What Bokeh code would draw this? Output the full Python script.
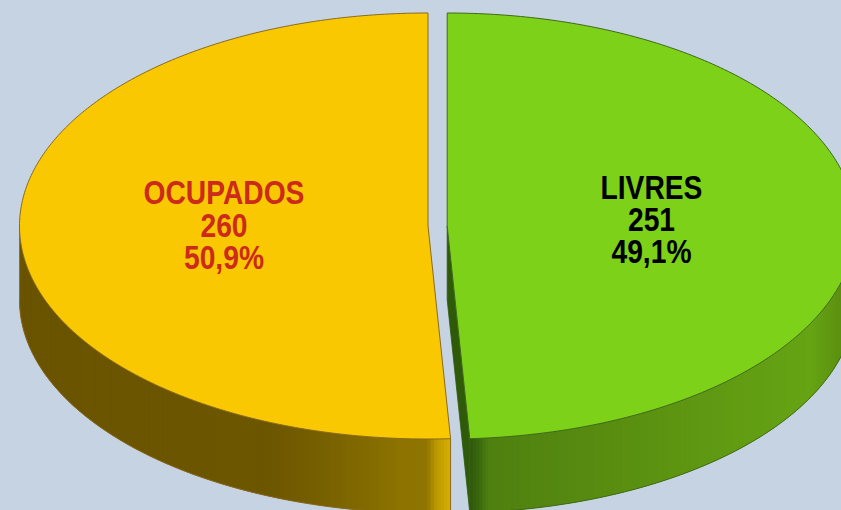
import math
from bokeh.plotting import figure
from bokeh.embed import file_html
from bokeh.resources import INLINE
from bokeh.core.properties import value as fixed

labels = ["OCUPADOS", "LIVRES"]
counts = [260, 251]
shares = ["50,9%", "49,1%"]
label_colors = ["#cc2a1a", "#000000"]
top_colors = ["#fac800", "#7dd118"]
edge_colors = ["#8a6a20", "#3f6a1a"]
bg = "#c5d3e2"

W, H = 841, 510
RX, RY, DEPTH, CY = 408.5, 213.0, 74.0, 225.5
CX = [427.5, 446.7]
total = sum(counts)
split = counts[0] / total * 360.0  # degrees anticlockwise from the top

# wall shading: (x, colour) stops
yellow_wall = [(19, "#6a5400"), (270, "#6c5600"), (340, "#7c6400"), (400, "#8d7300"), (426, "#8f7400"), (436, "#bb9900"), (450, "#d8b000")]
green_wall = [(470, "#30580c"), (480, "#3c6c0e"), (488, "#4f8010"), (600, "#588c10"), (720, "#609a12"), (810, "#66a414"), (841, "#5c9010"), (860, "#5c9010")]


def hex2rgb(h):
    return [int(h[i:i + 2], 16) for i in (1, 3, 5)]


def shade(stops, x):
    if x <= stops[0][0]:
        return stops[0][1]
    for (x0, c0), (x1, c1) in zip(stops, stops[1:]):
        if x <= x1:
            f = (x - x0) / (x1 - x0)
            a, b = hex2rgb(c0), hex2rgb(c1)
            return "#%02x%02x%02x" % tuple(round(p + (q - p) * f) for p, q in zip(a, b))
    return stops[-1][1]


def rim(cx, deg):
    """Point on the top ellipse, degrees clockwise from the top."""
    a = math.radians(deg)
    return cx + RX * math.sin(a), CY - RY * math.cos(a)


p = figure(width=W, height=H, x_range=(0, W), y_range=(H, 0), toolbar_location=None,
           output_backend="svg", min_border=0, outline_line_color=None,
           background_fill_color=bg, border_fill_color=bg)
p.axis.visible = False
p.grid.visible = False


def wall(cx, a0, a1, stops):
    """Side wall as overlapping strips painted one over the other, so no seams show."""
    n = 200
    xs, ys, cs = [], [], []
    for i in range(n):
        d0 = a0 + (a1 - a0) * i / n
        d1 = a0 + (a1 - a0) * min(i + 3, n) / n
        dm = a0 + (a1 - a0) * (i + 0.5) / n
        x0, y0 = rim(cx, d0)
        x1, y1 = rim(cx, d1)
        xs.append([x0, x1, x1, x0])
        ys.append([y0, y1, y1 + DEPTH, y0 + DEPTH])
        cs.append(shade(stops, rim(cx, dm)[0]))
    p.patches(xs, ys, fill_color=cs, line_color=None)


def outline(cx, a0, a1, color):
    n = 200
    pts = [rim(cx, a0 + (a1 - a0) * i / n) for i in range(n + 1)]
    p.line([q[0] for q in pts], [q[1] + DEPTH for q in pts], line_color=color, line_width=1)


def top(cx, a0, a1, fill, edge):
    n = 240
    pts = [rim(cx, a0 + (a1 - a0) * i / n) for i in range(n + 1)]
    xs = [cx] + [q[0] for q in pts]
    ys = [CY] + [q[1] for q in pts]
    p.patch(xs, ys, fill_color=fill, line_color=edge, line_width=1)


# yellow slice (left): from the split angle round to the top
y_start = 360.0 - split
wall(CX[0], y_start, 270.0, yellow_wall)
outline(CX[0], 270.0, y_start, edge_colors[0])
lx, ly = rim(CX[0], 270.0)
p.line([lx, lx], [ly, ly + DEPTH], line_color="#7a7060", line_width=1)
ex, ey = rim(CX[0], y_start)
p.line([ex, ex], [ey, ey + DEPTH], line_color=edge_colors[0], line_width=1)
top(CX[0], y_start, 360.0, top_colors[0], edge_colors[0])

# green slice (right): cut face, wall, top
g_end = counts[1] / total * 360.0
gx, gy = rim(CX[1], g_end)
p.patch([CX[1], gx, gx, CX[1]], [CY, gy, gy + DEPTH, CY + DEPTH],
        fill_color="#2f5a0a", line_color="#2f5a0a", line_width=0.8)
wall(CX[1], 90.0, g_end, green_wall)
outline(CX[1], g_end, 90.0, edge_colors[1])
top(CX[1], 0.0, g_end, top_colors[1], edge_colors[1])

# labels
label_x = [223.5, 651]
label_y = [[192, 225, 257], [187, 219, 251]]
for i in range(2):
    lines = [labels[i], str(counts[i]), shares[i]]
    for txt, yy in zip(lines, label_y[i]):
        p.text([label_x[i]], [yy], text=[txt], text_align="center", text_baseline="middle",
               text_font=fixed("Liberation Sans"), text_font_style="bold",
               text_font_size="34px", text_color=label_colors[i])

# the labels are a condensed face, which is not installed: narrow the real text instead
squeeze = """<script>
function findTexts(root, out) {
  for (const el of root.querySelectorAll('*')) {
    if (el.tagName === 'text') out.push(el);
    if (el.shadowRoot) findTexts(el.shadowRoot, out);
  }
  return out;
}
setInterval(function () {
  for (const t of findTexts(document, [])) {
    if (t.dataset.narrow) continue;
    t.dataset.narrow = '1';
    const b = t.getBBox();
    const c = b.x + b.width / 2;
    const old = t.getAttribute('transform') || '';
    t.setAttribute('transform', old + ' translate(' + c + ' 0) scale(0.83 1) translate(' + (-c) + ' 0)');
  }
}, 25);
</script>"""

html = file_html(p, INLINE)
html = html.replace("<head>", "<head><style>html,body{margin:0;padding:0;overflow:hidden;background:%s}</style>" % bg, 1)
html = html.replace("</body>", squeeze + "</body>", 1)
open("out.html", "w").write(html)
